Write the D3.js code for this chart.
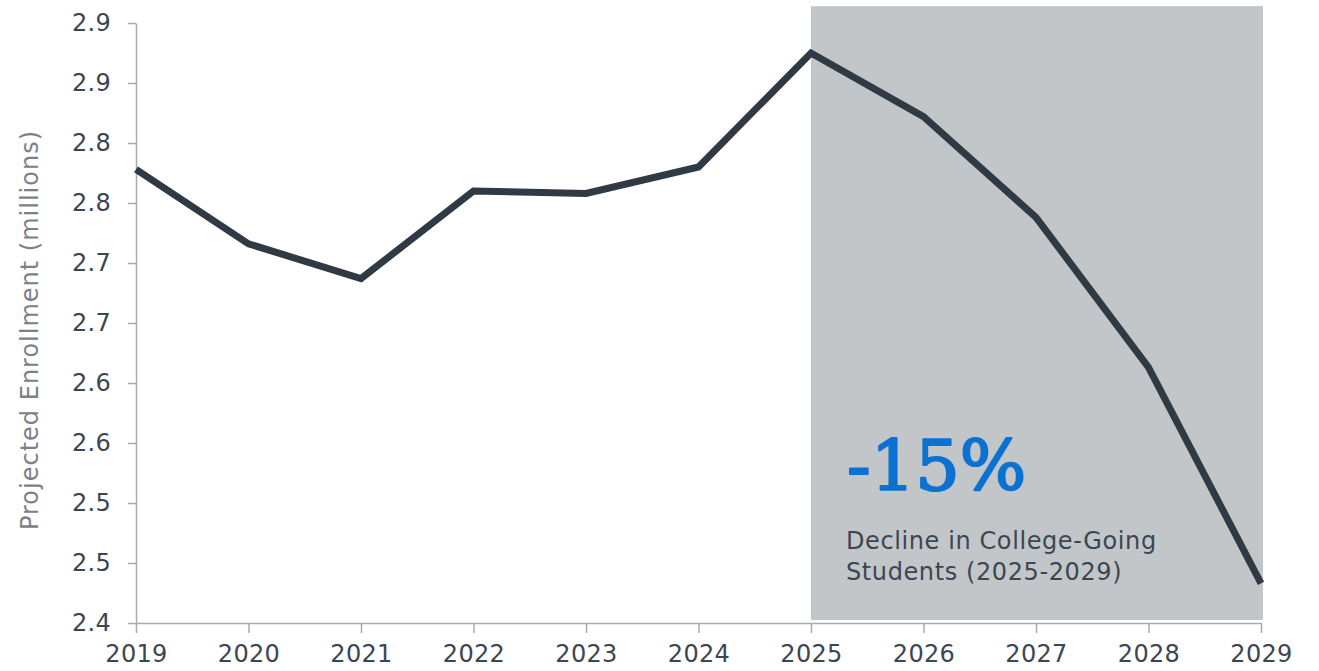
<!DOCTYPE html>
<html>
<head>
<meta charset="utf-8">
<script src="https://cdn.jsdelivr.net/npm/d3@7"></script>
<style>
  html, body { margin: 0; padding: 0; background: #fff; }
  svg { display: block; }
</style>
</head>
<body>
<svg id="chart"></svg>
<script>
const years = [2019, 2020, 2021, 2022, 2023, 2024, 2025, 2026, 2027, 2028, 2029];
const enrollment = [2.778, 2.716, 2.687, 2.760, 2.758, 2.780, 2.875, 2.822, 2.738, 2.613, 2.433];
const yTicks = [2.40, 2.45, 2.50, 2.55, 2.60, 2.65, 2.70, 2.75, 2.80, 2.85, 2.90];
const yTickLabels = ["2.4", "2.5", "2.5", "2.6", "2.6", "2.7", "2.7", "2.8", "2.8", "2.9", "2.9"];
const projection = [2025, 2029];
const bigNumber = "-15%";
const noteLines = ["Decline in College-Going", "Students (2025-2029)"];

const width = 1319;
const height = 671;
const margin = { top: 23, right: 58, bottom: 48, left: 136 };
const sans = "DejaVu Sans, Verdana, sans-serif";

const svg = d3.select("#chart")
  .attr("width", width)
  .attr("height", height)
  .attr("viewBox", [0, 0, width, height]);

const x = d3.scaleLinear()
  .domain([years[0], years[years.length - 1]])
  .range([margin.left, width - margin.right]);

const y = d3.scaleLinear()
  .domain([2.4, 2.9])
  .range([height - margin.bottom, margin.top]);

// shaded projection window
svg.append("rect")
  .attr("x", x(projection[0]))
  .attr("y", y(2.914))
  .attr("width", x(projection[1]) - x(projection[0]) + 2)
  .attr("height", y(2.4025) - y(2.914))
  .attr("fill", "#c3c6c9");

const yAxis = svg.append("g")
  .attr("transform", `translate(${margin.left},0)`)
  .call(d3.axisLeft(y)
    .tickValues(yTicks)
    .tickFormat((d, i) => yTickLabels[i])
    .tickSize(8)
    .tickSizeOuter(0)
    .tickPadding(17));

const xAxis = svg.append("g")
  .attr("transform", `translate(0,${height - margin.bottom})`)
  .call(d3.axisBottom(x)
    .tickValues(years)
    .tickFormat(d3.format("d"))
    .tickSize(10)
    .tickSizeOuter(0)
    .tickPadding(12));

[yAxis, xAxis].forEach(g => {
  g.selectAll(".domain, .tick line")
    .attr("stroke", "#a7aaae")
    .attr("stroke-width", 1.5);
  g.selectAll("text")
    .attr("fill", "#3c4651")
    .style("font-family", sans)
    .style("font-size", "24px")
    .style("letter-spacing", "0.3px");
});

svg.append("text")
  .attr("transform", `translate(38,330) rotate(-90)`)
  .attr("text-anchor", "middle")
  .attr("fill", "#7c8189")
  .style("font-family", sans)
  .style("font-size", "24px")
  .style("letter-spacing", "1px")
  .text("Projected Enrollment (millions)");

const line = d3.line()
  .x((d, i) => x(years[i]))
  .y(d => y(d));

svg.append("path")
  .datum(enrollment)
  .attr("fill", "none")
  .attr("stroke", "#2f3a45")
  .attr("stroke-width", 7)
  .attr("stroke-linejoin", "miter")
  .attr("d", line);

// annotation
const noteX = x(projection[0]) + 35;

svg.append("text")
  .attr("x", noteX + 1)
  .attr("y", 490)
  .attr("fill", "#0b72d1")
  .attr("stroke", "#0b72d1")
  .attr("stroke-width", 2.2)
  .attr("stroke-linejoin", "round")
  .style("font-family", "DejaVu Serif, serif")
  .style("font-size", "70px")
  .text(bigNumber);

svg.append("text")
  .attr("fill", "#3c4651")
  .style("font-family", sans)
  .style("font-size", "24px")
  .style("letter-spacing", "0.6px")
  .selectAll("tspan")
  .data(noteLines)
  .join("tspan")
  .attr("x", noteX)
  .attr("y", (d, i) => 549 + i * 31)
  .text(d => d);
</script>
</body>
</html>
